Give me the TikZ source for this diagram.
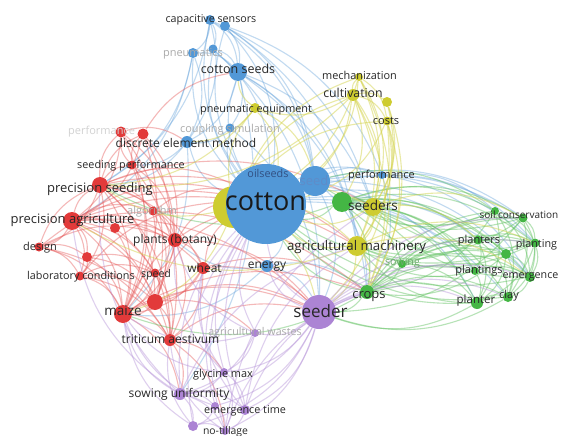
\documentclass[tikz,border=0pt]{standalone}
\usepackage{fontspec}
\setmainfont{Open Sans}
\pgfdeclarelayer{edges}
\pgfdeclarelayer{labels}
\pgfsetlayers{edges,main,labels}
\definecolor{cB}{RGB}{82,152,215}
\definecolor{cR}{RGB}{226,58,58}
\definecolor{cG}{RGB}{68,182,68}
\definecolor{cY}{RGB}{206,204,48}
\definecolor{cP}{RGB}{172,132,212}
\definecolor{txt}{RGB}{40,40,40}
\definecolor{fade}{RGB}{170,170,170}
\tikzset{
  nd/.style={circle,inner sep=0pt,minimum size=#1},
  bn/.style={nd=#1,fill=cB},
  rn/.style={nd=#1,fill=cR},
  gn/.style={nd=#1,fill=cG},
  yn/.style={nd=#1,fill=cY},
  pn/.style={nd=#1,fill=cP},
  edgeB/.style={draw=cB!85!white,opacity=.42,line width=1.1pt},
  edgeR/.style={draw=cR!85!white,opacity=.42,line width=1.1pt},
  edgeG/.style={draw=cG!85!white,opacity=.45,line width=1.1pt},
  edgeY/.style={draw=cY!85!white,opacity=.5,line width=1.1pt},
  edgeP/.style={draw=cP!85!white,opacity=.45,line width=1.1pt},
  lb/.style={anchor=base,inner sep=0pt,text=txt,font=\fontsize{#1}{#1}\selectfont},
  fl/.style={lb=#1,text=fade},
}
\begin{document}
\begin{tikzpicture}[x=1pt,y=-1pt]
\begin{pgfonlayer}{edges}
\fill[white] (0,0) rectangle (565,436);
\end{pgfonlayer}
\useasboundingbox (0,0) rectangle (565,436);
% ---------- dots ----------
\node[yn=42pt] (yelbig) at (234,207) {};
% blue
\node[bn=80pt] (cotton) at (266,204) {};
\node[bn=10pt] (cap) at (210,20) {};
\node[bn=10pt] (cap2) at (225,26) {};
\node[bn=10pt] (pneu) at (193,53) {};
\node[bn=9pt] (pneu2) at (213,49) {};
\node[bn=18pt] (cseeds) at (238,72) {};
\node[bn=9pt] (coup) at (230,128) {};
\node[bn=12pt] (dem) at (187,142) {};
\node[bn=30pt] (seed) at (315,181) {};
\node[bn=8pt] (perfB) at (382,175) {};
\node[bn=12pt] (energy) at (267,266) {};
% yellow
\node[yn=8pt] (mech) at (359,77) {};
\node[yn=12pt] (cult) at (353,95) {};
\node[yn=10pt] (ycost2) at (387,102) {};
\node[yn=9pt] (costs) at (387,121) {};
\node[yn=10pt] (pneq) at (255,108) {};
\node[yn=18pt] (seeders) at (373,207) {};
\node[yn=20pt] (agm) at (357,246) {};
% green
\node[gn=20pt] (gbig) at (342,202) {};
\node[gn=8pt] (soil1) at (495,211) {};
\node[gn=9pt] (soil) at (523,218) {};
\node[gn=9pt] (planters) at (478,240) {};
\node[gn=9pt] (planting) at (535,243) {};
\node[gn=10pt] (g5) at (506,254) {};
\node[gn=8pt] (sowing) at (402,264) {};
\node[gn=8pt] (plantings) at (475,271) {};
\node[gn=10pt] (emerg) at (530,277) {};
\node[gn=14pt] (crops) at (367,292) {};
\node[gn=12pt] (planter) at (477,303) {};
\node[gn=10pt] (clay) at (508,297) {};
% purple
\node[pn=34pt] (seeder) at (319,312) {};
\node[pn=8pt] (agw) at (255,333) {};
\node[pn=8pt] (glyc) at (224,372) {};
\node[pn=12pt] (sowu) at (180,394) {};
\node[pn=10pt] (emt) at (245,410) {};
\node[pn=8pt] (emt2) at (215,406) {};
\node[pn=10pt] (p3) at (193,426) {};
\node[pn=8pt] (notill) at (225,431) {};
% red
\node[rn=11pt] (perfR1) at (121,132) {};
\node[rn=11pt] (perfR2) at (143,134) {};
\node[rn=9pt] (seedperf) at (132,165) {};
\node[rn=16pt] (precs) at (100,185) {};
\node[rn=18pt] (preca) at (72,221) {};
\node[rn=9pt] (algo) at (153,211) {};
\node[rn=10pt] (r7) at (115,228) {};
\node[rn=14pt] (plants) at (175,240) {};
\node[rn=9pt] (design) at (39,247) {};
\node[rn=10pt] (r10) at (87,257) {};
\node[rn=9pt] (lab) at (80,276) {};
\node[rn=9pt] (speed) at (155,273) {};
\node[rn=12pt] (wheat) at (203,268) {};
\node[rn=16pt] (r14) at (155,302) {};
\node[rn=18pt] (maize) at (123,314) {};
\node[rn=12pt] (trit) at (170,340) {};
% ---------- edges ----------
\begin{pgfonlayer}{edges}
\foreach \a/\b in {cotton/cap, cotton/cap2, cotton/pneu, cotton/pneu2, cotton/cseeds, cotton/coup, cotton/dem, cotton/perfB, cotton/energy, cap/cseeds, cap2/cseeds, cap/pneu, cap/pneu2, pneu/cseeds, pneu2/cseeds, cap2/seed, cseeds/seed, cseeds/dem, cseeds/coup, coup/dem, cap/dem, pneu/precs, cap/seeders, cap2/perfB, cseeds/agm, seed/perfB, seed/soil, perfB/planting, energy/seeder, energy/plants, cotton/planters, cotton/soil, cotton/emerg, seed/crops, dem/precs, dem/seedperf, coup/seeder, cseeds/crops, pneu/preca, cap/precs, cap2/agm, pneu2/seeder, seed/planter, perfB/soil1, energy/maize, energy/crops, cotton/plantings, cotton/clay, seed/seeder, cseeds/sowu, dem/maize, pneu/dem, cap/seed, cap2/cotton, pneu2/cotton, cseeds/seeders, seed/planting, seed/emerg, perfB/emerg, perfB/crops, cotton/seeders}
  \draw[edgeB] (\a) to[bend left=24] (\b);
\foreach \a/\b in {preca/precs, preca/design, preca/lab, preca/r10, preca/r7, preca/algo, preca/plants, preca/maize, preca/trit, preca/speed, preca/cotton, preca/seeder, precs/seedperf, precs/algo, precs/plants, precs/maize, precs/cotton, precs/perfR1, precs/perfR2, precs/lab, precs/design, seedperf/perfR1, seedperf/perfR2, seedperf/plants, perfR1/preca, perfR2/maize, perfR1/dem, algo/plants, algo/maize, plants/wheat, plants/maize, plants/trit, plants/speed, plants/cotton, plants/seeder, design/lab, design/r10, design/maize, r10/lab, r10/speed, lab/speed, lab/maize, speed/r14, wheat/r14, wheat/maize, wheat/trit, wheat/cotton, wheat/seeder, r14/maize, r14/trit, maize/trit, maize/cotton, maize/seeder, maize/sowu, trit/sowu, trit/glyc, trit/seeder, r14/cotton, r14/seeder, preca/agm, precs/seeders, maize/crops, perfR2/cseeds, wheat/crops, r7/maize, r7/plants, algo/cotton, speed/maize, design/precs, seedperf/maize, perfR1/maize, perfR2/plants, preca/crops, precs/agm, r14/agw, trit/notill, lab/trit, r10/maize, design/trit, design/plants, lab/r14, r10/r14, perfR1/r14, perfR2/r14, precs/r14, precs/trit, preca/r14, seedperf/trit, algo/r14, r7/trit, speed/trit, perfR1/plants, perfR2/preca, design/cotton, lab/cotton, precs/wheat, preca/wheat}
  \draw[edgeR] (\a) to[bend left=24] (\b);
\foreach \a/\b in {gbig/cotton, gbig/seeders, gbig/soil, gbig/planters, gbig/planting, gbig/plantings, gbig/emerg, gbig/planter, gbig/clay, gbig/sowing, gbig/crops, crops/soil, crops/planters, crops/planting, crops/plantings, crops/emerg, crops/planter, crops/clay, crops/seeder, crops/cotton, sowing/planter, sowing/soil, soil/planting, soil/planters, soil1/planting, soil1/emerg, planters/planting, planters/plantings, planters/g5, g5/planting, g5/emerg, g5/clay, g5/planter, plantings/emerg, plantings/planter, emerg/clay, planter/clay, planting/emerg, planter/seeder, clay/seeder, soil/seeder, planting/cotton, emerg/cotton, planters/agm, soil/seed, plantings/agm, planter/cotton, soil1/gbig, g5/crops, planting/seeders, emerg/seeders, soil1/crops, soil/agm, planting/planter, sowing/emerg, sowing/crops, gbig/precs, crops/maize, planter/agm, soil1/seeders, clay/cotton, g5/gbig, planting/agm, seed/soil1, gbig/g5, soil/clay, soil1/clay, planters/clay, planting/clay, soil/emerg, soil1/planter, planters/planter, sowing/planting, sowing/g5, crops/g5, crops/soil1, gbig/soil1, seeders/plantings}
  \draw[edgeG] (\a) to[bend left=24] (\b);
\foreach \a/\b in {yelbig/cotton, yelbig/cult, yelbig/mech, yelbig/costs, yelbig/pneq, yelbig/agm, yelbig/seeders, cult/mech, cult/costs, cult/ycost2, cult/pneq, cult/seeders, cult/agm, cult/cotton, mech/cotton, mech/seeders, costs/agm, costs/crops, ycost2/seeders, pneq/cotton, pneq/seed, pneq/dem, pneq/cseeds, seeders/agm, agm/crops, agm/seeder, agm/cotton, seeders/cotton, agm/planting, seeders/soil, agm/preca, cult/precs, mech/crops, costs/seeder, yelbig/seeder, yelbig/precs, yelbig/maize, cult/gbig, mech/agm, ycost2/crops, costs/cotton, pneq/precs, seeders/planters, agm/emerg, mech/costs, ycost2/agm, cult/crops, mech/yelbig, costs/seeders}
  \draw[edgeY] (\a) to[bend left=24] (\b);
\foreach \a/\b in {seeder/cotton, seeder/agw, seeder/glyc, seeder/sowu, seeder/emt, seeder/emt2, seeder/p3, seeder/notill, seeder/planter, seeder/clay, seeder/emerg, agw/sowu, agw/glyc, agw/cotton, glyc/sowu, glyc/emt, glyc/notill, sowu/emt, sowu/emt2, sowu/p3, sowu/notill, emt/notill, emt2/p3, emt2/notill, p3/notill, sowu/cotton, glyc/cotton, emt/cotton, notill/cotton, sowu/maize, p3/maize, emt/wheat, sowu/preca, glyc/plants, emt/crops, notill/crops, seeder/planting, seeder/plantings, emt2/cotton, p3/cotton, glyc/maize, sowu/precs, agw/maize, seeder/soil, emt2/maize, notill/trit, sowu/agm, emt/agm, p3/trit, glyc/wheat, agw/plants, seeder/energy, notill/seeders}
  \draw[edgeP] (\a) to[bend left=24] (\b);
\end{pgfonlayer}
% ---------- labels ----------
\begin{pgfonlayer}{labels}
\node[lb=10.7] (t-cap) at (211,23) {capacitive sensors};
\node[fl=11] (t-pneu) at (193,57) {pneumatics};
\node[lb=12.5] (t-cseeds) at (238,74) {cotton seeds};
\node[fl=10.9] (t-coup) at (230,132) {coupling simulation};
\node[lb=12] (t-dem) at (186,147) {discrete element method};
\node[lb=27,text=black!90] (t-cotton) at (265.5,210) {cotton};
\node[lb=10.8,text={rgb,255:red,50;green,80;blue,130}] (t-oil) at (268,177) {oilseeds};
\node[lb=13,text={rgb,255:red,95;green,140;blue,200}] (t-seed) at (314,185) {seed};
\node[lb=11] (t-perfB) at (381.5,178) {performance};
\node[lb=12] (t-energy) at (267,268) {energy};
\node[lb=10.9] (t-mech) at (359.5,80) {mechanization};
\node[lb=12.3] (t-cult) at (353,98) {cultivation};
\node[lb=11] (t-costs) at (386,124) {costs};
\node[lb=10.8] (t-pneq) at (256,112) {pneumatic equipment};
\node[lb=13.6] (t-seeders) at (373,210) {seeders};
\node[lb=13.3] (t-agm) at (356.5,250) {agricultural machinery};
\node[lb=10] (t-soil) at (519,218) {soil conservation};
\node[lb=11] (t-planters) at (479,243) {planters};
\node[lb=10.8] (t-planting) at (536.5,247) {planting};
\node[lb=11] (t-plantings) at (479,273) {plantings};
\node[lb=10.7] (t-emerg) at (530.5,278) {emergence};
\node[lb=11.5] (t-planter) at (476,303) {planter};
\node[lb=11] (t-clay) at (509,298) {clay};
\node[fl=10.7,text={rgb,255:red,110;green,170;blue,110}] (t-sowing) at (402.5,265) {sowing};
\node[lb=13] (t-crops) at (369,298) {crops};
\node[lb=17] (t-seeder) at (320.5,317) {seeder};
\node[fl=10.7] (t-agw) at (255,335) {agricultural wastes};
\node[lb=10.9] (t-glyc) at (223,377) {glycine max};
\node[lb=12] (t-sowu) at (179,397) {sowing uniformity};
\node[lb=10.8] (t-emt) at (245,413) {emergence time};
\node[lb=10.4] (t-notill) at (225.5,434) {no-tillage};
\node[fl=11,text=gray!35,anchor=base west] (t-perfR) at (68,134) {performance};
\node[lb=10.8] (t-seedperf) at (131,168) {seeding performance};
\node[lb=13] (t-precs) at (100,192) {precision seeding};
\node[lb=13] (t-preca) at (72.5,223) {precision agriculture};
\node[fl=11] (t-algo) at (152,214) {algorithm};
\node[lb=12] (t-plants) at (175,243) {plants (botany)};
\node[lb=11] (t-design) at (40,250) {design};
\node[lb=10.8] (t-lab) at (81,279) {laboratory conditions};
\node[lb=10.6] (t-speed) at (156,277) {speed};
\node[lb=12] (t-wheat) at (204.5,272) {wheat};
\node[lb=13.5] (t-maize) at (123,315) {maize};
\node[lb=12] (t-trit) at (170.5,343) {triticum aestivum};
\end{pgfonlayer}
\end{tikzpicture}
\end{document}
